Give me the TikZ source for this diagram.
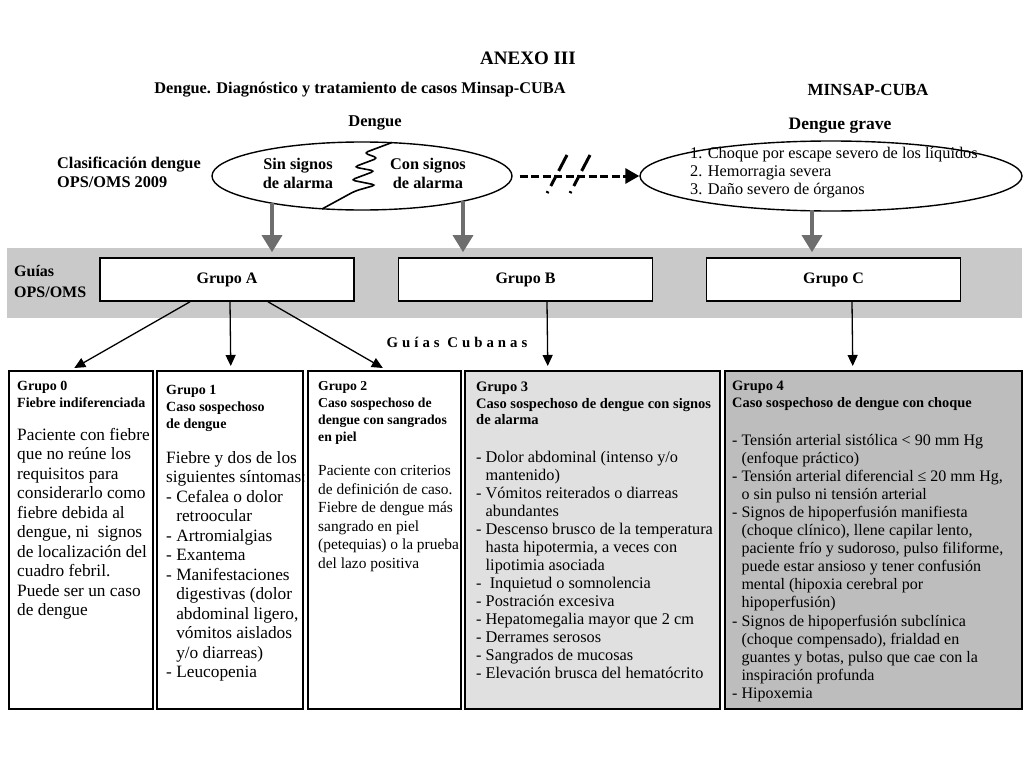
\documentclass[tikz,border=0pt]{standalone}
\usepackage{fontspec}
\setmainfont{Liberation Serif}
\usetikzlibrary{shapes.geometric,arrows.meta,calc}

\newcommand{\sangria}{\hphantom{-\ }}

\tikzset{
    elipse/.style={draw, ellipse, line width=1.4pt, inner sep=0pt},
    grupo/.style={draw, line width=1.6pt, fill=white, minimum width=254pt, minimum height=43pt, inner sep=0pt, font=\fontsize{16}{18}\bfseries\selectfont},
    caja/.style={draw, line width=1.6pt, anchor=north west, inner sep=0pt},
    titulo/.style={font=\fontsize{16.3}{19}\bfseries\selectfont, inner sep=0pt},
    cabeza/.style={anchor=north west, align=left, inner sep=0pt, font=\fontsize{14}{17}\bfseries\selectfont},
    cuerpo/.style={anchor=north west, align=left, inner sep=0pt},
    flecha/.style={-{Triangle[length=11pt,width=10pt]}, line width=1.3pt, shorten >=4pt},
    flechagris/.style={-{Triangle[length=17pt,width=20pt]}, line width=3.3pt, draw=black!57, shorten >=5pt}
}

\begin{document}
\begin{tikzpicture}[x=1pt, y=-1pt]
    \useasboundingbox (0,0) rectangle (1024,768);

    % titles
    \node [titulo, font=\fontsize{19}{22}\bfseries\selectfont] (anexo) at (528,58) {ANEXO III};
    \node [titulo] (subtit) at (360,90) {Dengue. Diagnóstico y tratamiento de casos Minsap-CUBA};
    \node [titulo, font=\fontsize{17}{19}\bfseries\selectfont] (minsap) at (868,90) {MINSAP-CUBA};

    % clasificacion OPS/OMS 2009
    \node [titulo, anchor=west, align=left] (clasif) at (57,172) {Clasificación dengue\\OPS/OMS 2009};
    \node [titulo, font=\fontsize{16.5}{19}\bfseries\selectfont] (dengue) at (375,123) {Dengue};
    \node [elipse, minimum width=300pt, minimum height=68pt] (e1) at (362,176) {};
    \draw [line width=1.6pt, rounded corners=4pt] (392,142.5) -- (364,153) -- (378,158) -- (354,167) -- (375,171) -- (351,180) -- (376,185) -- (355,191) -- (322,209);
    \node [titulo, align=center] (sin) at (298,173) {Sin signos\\de alarma};
    \node [titulo, align=center] (con) at (428,173) {Con signos\\de alarma};

    % dengue grave
    \node [titulo, font=\fontsize{17.5}{19}\bfseries\selectfont] (grave) at (840,126) {Dengue grave};
    \node [elipse, minimum width=382pt, minimum height=70pt] (e2) at (831,176) {};
    \node [cuerpo, anchor=west, font=\fontsize{16.3}{18}\selectfont] (items) at (690,173) {1. Choque por escape severo de los líquidos\\2. Hemorragia severa\\3. Daño severo de órganos};

    % dashed arrow with the cut
    \draw [line width=3pt, dash pattern=on 8pt off 3.5pt, -{Triangle[length=14pt,width=15pt]}, shorten <=7pt] (e1.east) -- (e2.west);
    \draw [line width=3pt, dash pattern=on 18pt off 5pt on 12pt off 6pt on 2pt off 20pt] (567,155) -- (544,199);
    \draw [line width=3pt, dash pattern=on 18pt off 5pt on 12pt off 6pt on 2pt off 20pt] (590,155) -- (567,199);

    % guias OPS/OMS
    \fill [black!21] (7,248) rectangle (1022,318);
    \node [titulo, anchor=west, align=left, font=\fontsize{16}{21}\bfseries\selectfont] (guias) at (14,282) {Guías\\OPS/OMS};
    \node [grupo] (ga) at (227,279.5) {Grupo A};
    \node [grupo] (gb) at (525.5,279.5) {Grupo B};
    \node [grupo] (gc) at (833.5,279.5) {Grupo C};

    % gray arrows
    \coordinate (ta) at (272,203);
    \coordinate (tb) at (463,201);
    \coordinate (tc) at (812,210);
    \draw [flechagris] (ta) -- (ta |- ga.north);
    \draw [flechagris] (tb) -- (tb |- gb.north);
    \draw [flechagris] (tc) -- (tc |- gc.north);

    % guias cubanas
    \node [titulo, font=\fontsize{14.8}{16}\bfseries\selectfont\addfontfeature{LetterSpace=27}] (cubanas) at (457,342) {Guías Cubanas};

    % boxes
    \node [caja, minimum width=144pt, minimum height=338pt] (g0) at (8,370) {};
    \node [caja, minimum width=146pt, minimum height=338pt] (g1) at (156,370) {};
    \node [caja, minimum width=153pt, minimum height=338pt] (g2) at (307,370) {};
    \node [caja, fill=black!12, minimum width=255pt, minimum height=338pt] (g3) at (464,370) {};
    \node [caja, fill=black!26, minimum width=297pt, minimum height=338pt] (g4) at (724,370) {};

    % black arrows
    \draw [flecha] ([xshift=-37pt]ga.south) -- ([xshift=-10pt]g0.north);
    \draw [flecha] ([xshift=3pt]ga.south) -- ([xshift=1pt]g1.north);
    \draw [flecha] ([xshift=41pt]ga.south) -- ([xshift=2pt]g2.north);
    \draw [flecha] ([xshift=21.5pt]gb.south) -- ([xshift=-44.5pt]g3.north);
    \draw [flecha] ([xshift=18.5pt]gc.south) -- ([xshift=-20.5pt]g4.north);

    % grupo 0
    \node [cabeza] (c0) at (17,381) {Grupo 0\\Fiebre indiferenciada};
    \node [cuerpo, font=\fontsize{17.3}{19.5}\selectfont] (t0) at (17,428) {Paciente con fiebre\\que no reúne los\\requisitos para\\considerarlo como\\fiebre debida al\\dengue, ni\ \ signos\\de localización del\\cuadro febril.\\Puede ser un caso\\de dengue};
    % grupo 1
    \node [cabeza] (c1) at (166,385) {Grupo 1\\Caso sospechoso\\de dengue};
    \node [cuerpo, font=\fontsize{17.3}{19.5}\selectfont] (t1) at (166,451) {Fiebre y dos de los\\siguientes síntomas:\\- Cefalea o dolor\\\sangria retroocular\\- Artromialgias\\- Exantema\\- Manifestaciones\\\sangria digestivas (dolor\\\sangria abdominal ligero,\\\sangria vómitos aislados\\\sangria y/o diarreas)\\- Leucopenia};
    % grupo 2
    \node [cabeza, font=\fontsize{13.7}{17}\bfseries\selectfont] (c2) at (318,381) {Grupo 2\\Caso sospechoso de\\dengue con sangrados\\en piel};
    \node [cuerpo, font=\fontsize{15.4}{18.6}\selectfont] (t2) at (318,465) {Paciente con criterios\\de definición de caso.\\Fiebre de dengue más\\sangrado en piel\\(petequias) o la prueba\\del lazo positiva};
    % grupo 3
    \node [cabeza, font=\fontsize{14.5}{16.5}\bfseries\selectfont] (c3) at (476,382) {Grupo 3\\Caso sospechoso de dengue con signos\\de alarma};
    \node [cuerpo, font=\fontsize{16.3}{18}\selectfont] (t3) at (476,451) {- Dolor abdominal (intenso y/o\\\sangria mantenido)\\- Vómitos reiterados o diarreas\\\sangria abundantes\\- Descenso brusco de la temperatura\\\sangria hasta hipotermia, a veces con\\\sangria lipotimia asociada\\-\ \ Inquietud o somnolencia\\- Postración excesiva\\- Hepatomegalia mayor que 2 cm\\- Derrames serosos\\- Sangrados de mucosas\\- Elevación brusca del hematócrito};
    % grupo 4
    \node [cabeza, font=\fontsize{14.4}{16.5}\bfseries\selectfont] (c4) at (732,381) {Grupo 4\\Caso sospechoso de dengue con choque};
    \node [cuerpo, font=\fontsize{16}{18.07}\selectfont] (t4) at (732,434) {- Tensión arterial sistólica < 90 mm Hg\\\sangria (enfoque práctico)\\- Tensión arterial diferencial ≤ 20 mm Hg,\\\sangria o sin pulso ni tensión arterial\\- Signos de hipoperfusión manifiesta\\\sangria (choque clínico), llene capilar lento,\\\sangria paciente frío y sudoroso, pulso filiforme,\\\sangria puede estar ansioso y tener confusión\\\sangria mental (hipoxia cerebral por\\\sangria hipoperfusión)\\- Signos de hipoperfusión subclínica\\\sangria (choque compensado), frialdad en\\\sangria guantes y botas, pulso que cae con la\\\sangria inspiración profunda\\- Hipoxemia};
\end{tikzpicture}
\end{document}
